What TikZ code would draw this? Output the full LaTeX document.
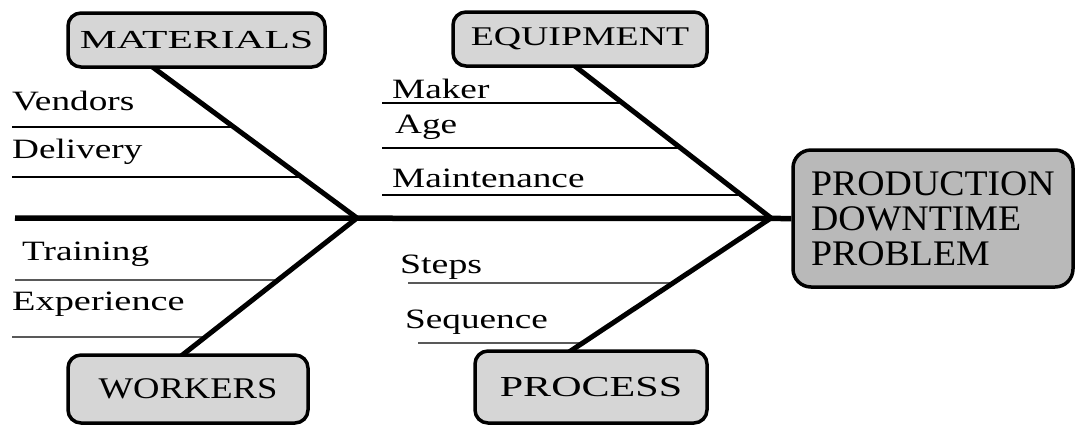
\documentclass[tikz,border=0pt]{standalone}
\usepackage{fontspec}
\usepackage{graphicx}
\setmainfont{Liberation Serif}
\newcommand\wx[2]{\scalebox{#1}[1]{#2}}
\tikzset{
  bone/.style={line width=5pt, line join=miter},
  spine/.style={line width=5.5pt},
  uline/.style={line width=1.2pt},
  cat/.style={draw, line width=3.5pt, rounded corners=13pt, fill=gray!32, inner sep=0pt},
  lab/.style={anchor=base west, inner sep=0pt, font=\fontsize{28}{30}\selectfont},
}
\begin{document}
\begin{tikzpicture}[x=1pt,y=-1pt]
\useasboundingbox (0,0) rectangle (1076,424);
% key points
\coordinate (sp0) at (15,218);
\coordinate (V1) at (357,218);
\coordinate (V2) at (771,218);
\coordinate (mb) at (143,60);
\coordinate (eb) at (567,60);
\coordinate (wb) at (176,360);
\coordinate (pb) at (560,358);
% underline start / far points
\coordinate (u1) at (12,127);  \coordinate (u1f) at (900,127);
\coordinate (u2) at (12,177);  \coordinate (u2f) at (900,177);
\coordinate (u3) at (382,103); \coordinate (u3f) at (900,103);
\coordinate (u4) at (382,148); \coordinate (u4f) at (900,148);
\coordinate (u5) at (382,195); \coordinate (u5f) at (900,195);
\coordinate (u6) at (15,280);  \coordinate (u6f) at (900,280);
\coordinate (u7) at (12,337);  \coordinate (u7f) at (900,337);
\coordinate (u8) at (408,283); \coordinate (u8f) at (900,283);
\coordinate (u9) at (418,343); \coordinate (u9f) at (900,343);
\coordinate (e1) at (intersection of mb--V1 and u1--u1f);
\coordinate (e2) at (intersection of mb--V1 and u2--u2f);
\coordinate (e3) at (intersection of eb--V2 and u3--u3f);
\coordinate (e4) at (intersection of eb--V2 and u4--u4f);
\coordinate (e5) at (intersection of eb--V2 and u5--u5f);
\coordinate (e6) at (intersection of wb--V1 and u6--u6f);
\coordinate (e7) at (intersection of wb--V1 and u7--u7f);
\coordinate (e8) at (intersection of pb--V2 and u8--u8f);
\coordinate (e9) at (intersection of pb--V2 and u9--u9f);
% underlines
\foreach \i in {1,...,9} {\draw[uline] (u\i) -- (e\i);}
% bones (behind boxes)
\draw[bone] (mb) -- (V1) -- (wb);
\draw[bone] (eb) -- (V2) -- (pb);
% category boxes
\node[cat, minimum width=257pt, minimum height=54pt, font=\fontsize{26}{28}\selectfont] (mat) at (196.5,40) {\wx{1.6}{MATERIALS}};
\node[cat, minimum width=254pt, minimum height=54pt, font=\fontsize{27}{28}\selectfont] (equ) at (580,39) {\wx{1.4}{EQUIPMENT}};
\node[cat, minimum width=240pt, minimum height=68pt, font=\fontsize{30}{30}\selectfont] (wor) at (188,389) {\wx{1.22}{WORKERS}};
\node[cat, minimum width=232pt, minimum height=72pt, font=\fontsize{29}{30}\selectfont] (pro) at (591,387) {\wx{1.45}{PROCESS}};
\node[cat, fill=gray!55, rounded corners=18pt, minimum width=280pt, minimum height=137pt, align=left, font=\fontsize{36}{35}\selectfont] (prod) at (933,218.5)
  {\wx{1.05}{PRODUCTION}\\\wx{1.05}{DOWNTIME}\\\wx{1.05}{PROBLEM}};
% spine
\draw[spine] (sp0) -- (prod.west);
% labels
\node[lab] (ven) at (12,110) {\wx{1.33}{Vendors}};
\node[lab] (del) at (12,158) {\wx{1.33}{Delivery}};
\node[lab] (mak) at (392,98) {\wx{1.33}{Maker}};
\node[lab] (age) at (395,133) {\wx{1.33}{Age}};
\node[lab] (mai) at (392,187) {\wx{1.33}{Maintenance}};
\node[lab] (tra) at (22,260) {\wx{1.33}{Training}};
\node[lab] (exp) at (12,310) {\wx{1.37}{Experience}};
\node[lab] (ste) at (400,273) {\wx{1.35}{Steps}};
\node[lab] (seq) at (405,328) {\wx{1.33}{Sequence}};
\end{tikzpicture}
\end{document}
